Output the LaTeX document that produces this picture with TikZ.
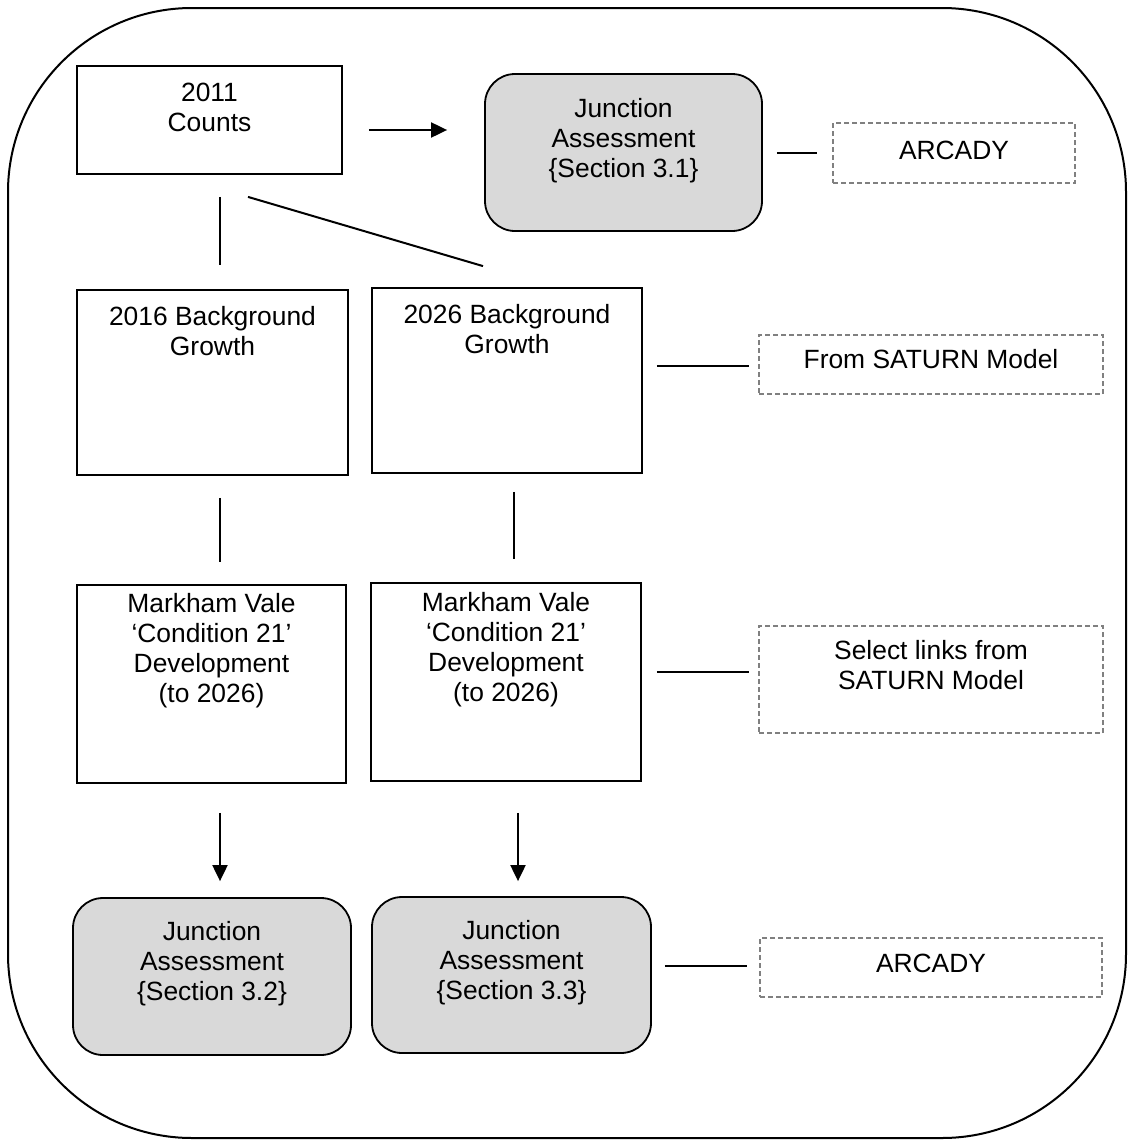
\documentclass[tikz,border=0pt]{standalone}
\usepackage{fontspec}
\setmainfont{Liberation Sans}
\usetikzlibrary{arrows.meta,calc,fit}
\definecolor{boxgrey}{RGB}{217,217,217}
\definecolor{dashgrey}{RGB}{128,128,128}
\begin{document}
\begin{tikzpicture}[x=0.5pt,y=-0.5pt,
  every node/.style={font=\fontsize{13.2pt}{15pt}\selectfont},
  box/.style={draw, line width=0.9pt, inner sep=0pt},
  greybox/.style={box, fill=boxgrey, rounded corners=15pt},
  dbox/.style={draw=dashgrey, line width=0.6pt, dash pattern=on 2.5pt off 1.5pt, inner sep=0pt},
  lab/.style={anchor=north, inner sep=0pt, align=center},
  con/.style={line width=1pt},
  arr/.style={con, -{Triangle[length=8pt,width=7.5pt]}}
]
\useasboundingbox (0,0) rectangle (1131,1140);
\draw[line width=1pt, rounded corners=92pt] (8,8) rectangle (1126,1138);

\node[box, fit={(77,66) (342,174)}, label={[lab,yshift=-9pt]north:{2011\\Counts}}] (counts) {};
\node[greybox, fit={(485,74) (762,231)}, label={[lab,yshift=-12.5pt]north:{Junction\\Assessment\\\{Section 3.1\}}}] (j31) {};
\node[dbox, fit={(833,123) (1075,183)}, label={[lab,yshift=-9pt]north:{ARCADY}}] (arc1) {};

\node[box, fit={(77,290) (348,475)}, label={[lab,yshift=-8.5pt]north:{2016 Background\\Growth}}] (g16) {};
\node[box, fit={(372,288) (642,473)}, label={[lab,yshift=-8.5pt]north:{2026 Background\\Growth}}] (g26) {};
\node[dbox, fit={(759,335) (1103,394)}, label={[lab,yshift=-7.5pt]north:{From SATURN Model}}] (sat) {};

\node[box, fit={(77,585) (346,783)}, label={[lab,yshift=-4.5pt]north:{Markham Vale\\‘Condition 21’\\Development\\(to 2026)}}] (m16) {};
\node[box, fit={(371,583) (641,781)}, label={[lab,yshift=-5pt]north:{Markham Vale\\‘Condition 21’\\Development\\(to 2026)}}] (m26) {};
\node[dbox, fit={(759,626) (1103,733)}, label={[lab,yshift=-7.5pt]north:{Select links from\\SATURN Model}}] (sel) {};

\node[greybox, fit={(73,898) (351,1055)}, label={[lab,yshift=-12pt]north:{Junction\\Assessment\\\{Section 3.2\}}}] (j32) {};
\node[greybox, fit={(372,897) (651,1053)}, label={[lab,yshift=-12pt]north:{Junction\\Assessment\\\{Section 3.3\}}}] (j33) {};
\node[dbox, fit={(760,938) (1102,997)}, label={[lab,yshift=-8pt]north:{ARCADY}}] (arc2) {};

\draw[arr] ($(counts.east)+(26,10)$) -- ($(j31.west)+(-37,-22.5)$);
\draw[con] ($(j31.east)+(14,0.5)$) -- ($(arc1.west)+(-15,0)$);
\draw[con] ($(counts.south)+(10.5,22)$) -- ($(g16.north)+(7.5,-24)$);
\draw[con] ($(counts.south)+(38.5,22)$) -- ($(g26.north)+(-24,-21)$);
\draw[con] ($(g26.east)+(14,-14.5)$) -- ($(sat.west)+(-9,1.5)$);
\draw[con] ($(g16.south)+(7.5,22)$) -- ($(m16.north)+(8.5,-22)$);
\draw[con] ($(g26.south)+(7,18)$) -- ($(m26.north)+(8,-23)$);
\draw[con] ($(m26.east)+(15,-10)$) -- ($(sel.west)+(-9,-7.5)$);
\draw[arr] ($(m16.south)+(8.5,29)$) -- ($(j32.north)+(8,-16)$);
\draw[arr] ($(m26.south)+(12,31)$) -- ($(j33.north)+(6.5,-15)$);
\draw[con] ($(j33.east)+(13,-9)$) -- ($(arc2.west)+(-12,-1.5)$);
\end{tikzpicture}
\end{document}
